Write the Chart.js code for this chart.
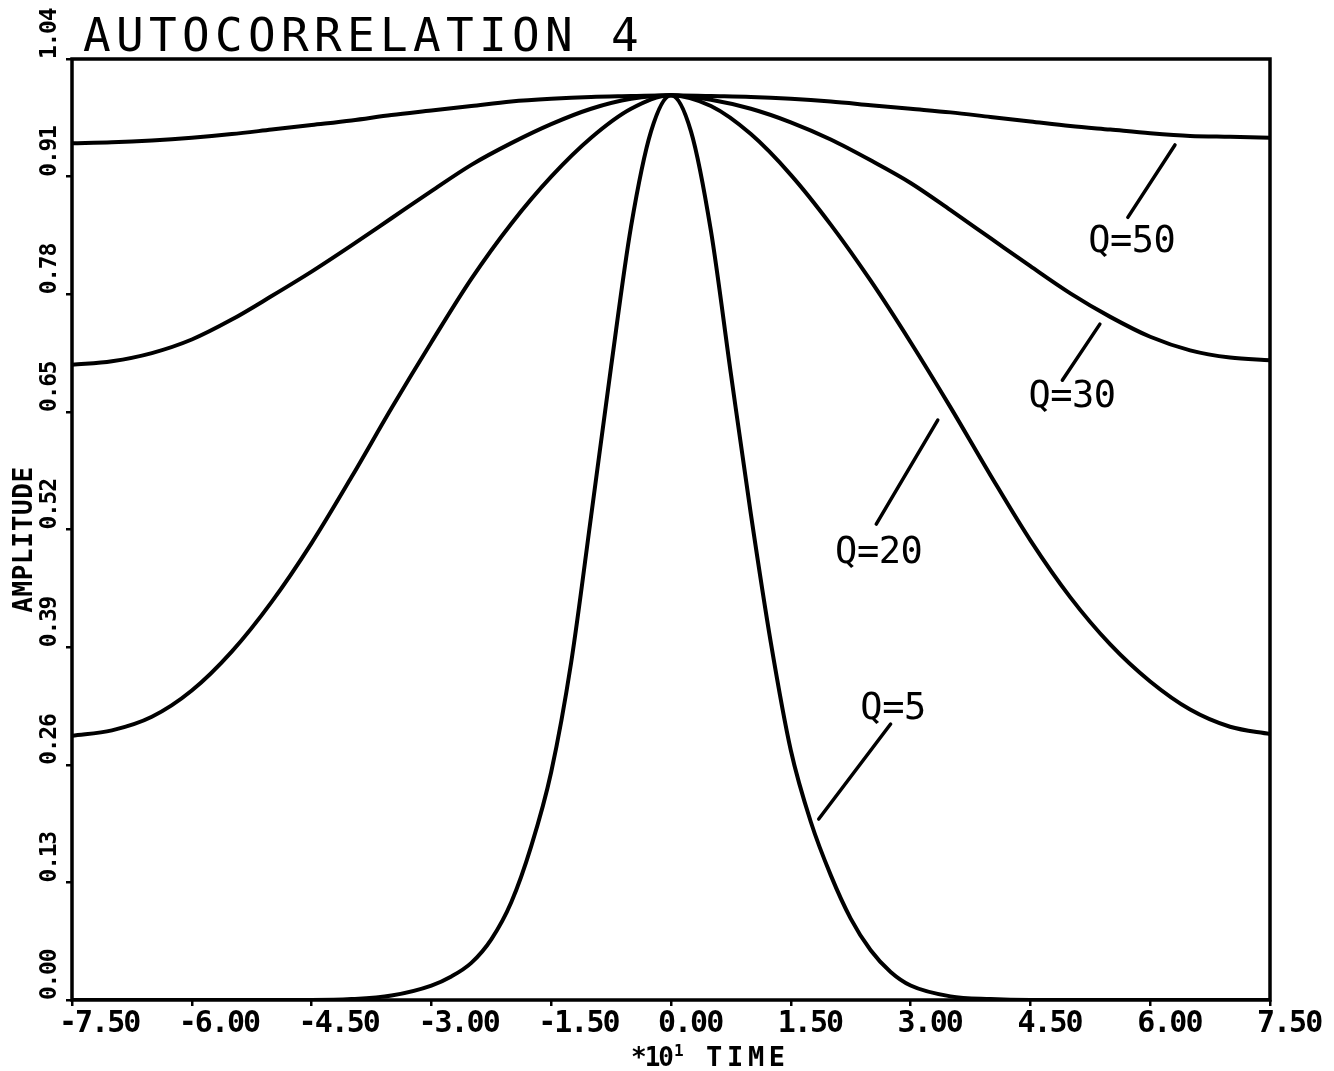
<!DOCTYPE html>
<html>
<head>
<meta charset="utf-8">
<title>Autocorrelation 4</title>
<script src="https://cdn.jsdelivr.net/npm/chart.js@4.4.1/dist/chart.umd.min.js"></script>
<style>
  html, body { margin: 0; padding: 0; background: #fff; }
  canvas { display: block; }
</style>
</head>
<body>
<canvas id="chart" width="1334" height="1071"></canvas>
<script>
// lag (x10 time units), shared by the three wide curves
const lagGrid = [-7.5, -7, -6.5, -6, -5.5, -5, -4.5, -4, -3.5, -3, -2.5, -2, -1.5, -1, -0.5,
                 0, 0.5, 1, 1.5, 2, 2.5, 3, 3.5, 4, 4.5, 5, 5.5, 6, 6.5, 7, 7.5];
const q50 = [0.947, 0.948, 0.950, 0.953, 0.957, 0.962, 0.967, 0.972, 0.978, 0.983, 0.988, 0.993, 0.996, 0.998, 0.999,
             1.000, 0.999, 0.998, 0.996, 0.993, 0.989, 0.985, 0.981, 0.976, 0.971, 0.966, 0.962, 0.958, 0.955, 0.954, 0.953];
const q30 = [0.702, 0.706, 0.715, 0.730, 0.752, 0.778, 0.805, 0.834, 0.864, 0.894, 0.923, 0.947, 0.968, 0.985, 0.996,
             1.000, 0.995, 0.985, 0.970, 0.951, 0.928, 0.903, 0.873, 0.842, 0.811, 0.781, 0.755, 0.733, 0.718, 0.710, 0.707];
const q20 = [0.292, 0.298, 0.313, 0.342, 0.385, 0.440, 0.505, 0.578, 0.654, 0.727, 0.797, 0.858, 0.910, 0.953, 0.985,
             1.000, 0.988, 0.957, 0.912, 0.857, 0.795, 0.727, 0.655, 0.580, 0.508, 0.445, 0.393, 0.352, 0.321, 0.302, 0.294];

// Q=5 is narrow, so it gets a finer lag grid
const lagFine = [-7.5, -6, -5, -4.5, -4, -3.5, -3, -2.75, -2.5, -2.25, -2, -1.75, -1.5, -1.25, -1, -0.75, -0.5, -0.25,
                 0, 0.25, 0.5, 0.75, 1, 1.25, 1.5, 1.75, 2, 2.25, 2.5, 2.75, 3, 3.5, 4, 4.5, 5, 6, 7.5];
const q5 = [0, 0, 0, 0, 0.001, 0.005, 0.016, 0.026, 0.041, 0.067, 0.108, 0.170, 0.252, 0.373, 0.535, 0.700, 0.855, 0.960,
            1.000, 0.960, 0.850, 0.692, 0.537, 0.395, 0.276, 0.197, 0.138, 0.090, 0.055, 0.031, 0.016, 0.004, 0.001, 0, 0, 0, 0];

const xTicks = [-7.5, -6, -4.5, -3, -1.5, 0, 1.5, 3, 4.5, 6, 7.5];
const yTicks = [0, 0.13, 0.26, 0.39, 0.52, 0.65, 0.78, 0.91, 1.04];

// curve names with their leader lines, in data units
const curveNames = ['Q=50', 'Q=30', 'Q=20', 'Q=5'];
const nameAt     = [[5.77, 0.842], [5.02, 0.670], [2.60, 0.498], [2.78, 0.325]];
const leaderFrom = [[5.72, 0.865], [4.90, 0.685], [2.57, 0.526], [1.85, 0.200]];
const leaderTo   = [[6.31, 0.945], [5.37, 0.747], [3.34, 0.641], [2.75, 0.305]];

const MONO = '"DejaVu Sans Mono", "Liberation Mono", monospace';

function series(xs, ys) {
  return { data: xs.map((x, i) => ({ x, y: ys[i] })) };
}

const plotterText = {
  id: 'plotterText',
  afterDraw(chart) {
    const { ctx, chartArea: a, scales: { x, y } } = chart;
    ctx.save();
    ctx.fillStyle = '#000';
    ctx.strokeStyle = '#000';

    // box around the plot
    ctx.lineWidth = 3.5;
    ctx.strokeRect(a.left, a.top, a.right - a.left, a.bottom - a.top);

    // leader lines
    ctx.lineCap = 'round';
    ctx.lineWidth = 3.5;
    leaderFrom.forEach((p, i) => {
      ctx.beginPath();
      ctx.moveTo(x.getPixelForValue(p[0]), y.getPixelForValue(p[1]));
      ctx.lineTo(x.getPixelForValue(leaderTo[i][0]), y.getPixelForValue(leaderTo[i][1]));
      ctx.stroke();
    });

    // curve names
    ctx.font = '37px ' + MONO;
    ctx.letterSpacing = '-0.5px';
    ctx.textAlign = 'center';
    ctx.textBaseline = 'alphabetic';
    curveNames.forEach((t, i) => {
      ctx.fillText(t, x.getPixelForValue(nameAt[i][0]), y.getPixelForValue(nameAt[i][1]) + 13.5);
    });

    // x tick labels
    ctx.font = 'bold 30px ' + MONO;
    ctx.letterSpacing = '-2px';
    ctx.textAlign = 'left';
    xTicks.forEach(v => ctx.fillText(v.toFixed(2), x.getPixelForValue(v) - 13, a.bottom + 32));

    // y tick labels, reading upward from each tick
    ctx.font = 'bold 23px ' + MONO;
    ctx.letterSpacing = '-1.3px';
    yTicks.forEach(v => {
      ctx.save();
      ctx.translate(a.left - 16, y.getPixelForValue(v));
      ctx.rotate(-Math.PI / 2);
      ctx.fillText(v.toFixed(2), 0, 0);
      ctx.restore();
    });

    // y axis title
    ctx.font = 'bold 26px ' + MONO;
    ctx.letterSpacing = '0.6px';
    ctx.save();
    ctx.translate(32, (a.top + a.bottom) / 2 + 10);
    ctx.rotate(-Math.PI / 2);
    ctx.textAlign = 'center';
    ctx.fillText('AMPLITUDE', 0, 0);
    ctx.restore();

    // x axis title: *10^1 TIME
    const x0 = x.getPixelForValue(0);
    ctx.textAlign = 'left';
    ctx.font = 'bold 26px ' + MONO;
    ctx.letterSpacing = '-2px';
    ctx.fillText('*10', x0 - 40, 1066);
    ctx.font = 'bold 16px ' + MONO;
    ctx.letterSpacing = '0px';
    ctx.fillText('1', x0 + 3, 1056);
    ctx.font = 'bold 27px ' + MONO;
    ctx.letterSpacing = '4.7px';
    ctx.fillText('TIME', x0 + 35, 1066);

    // title
    ctx.font = '46px ' + MONO;
    ctx.letterSpacing = '5.3px';
    ctx.fillText('AUTOCORRELATION 4', 83, 51);

    ctx.restore();
  }
};

new Chart(document.getElementById('chart'), {
  type: 'line',
  data: {
    datasets: [series(lagGrid, q50), series(lagGrid, q30), series(lagGrid, q20), series(lagFine, q5)]
  },
  options: {
    responsive: false,
    animation: false,
    devicePixelRatio: 1,
    layout: { padding: { top: 59, right: 64, left: 0, bottom: 0 } },
    plugins: { legend: { display: false }, tooltip: { enabled: false } },
    elements: {
      point: { radius: 0 },
      line: { borderColor: '#000', borderWidth: 4, cubicInterpolationMode: 'monotone', fill: false }
    },
    scales: {
      x: {
        type: 'linear', min: -7.5, max: 7.5,
        afterBuildTicks: s => { s.ticks = xTicks.map(value => ({ value })); },
        afterFit: s => { s.height = 71; },
        ticks: { display: false },
        grid: { drawOnChartArea: false, color: '#000', lineWidth: 2.5, tickLength: 6 },
        border: { display: false }
      },
      y: {
        type: 'linear', min: 0, max: 1.04,
        afterBuildTicks: s => { s.ticks = yTicks.map(value => ({ value })); },
        afterFit: s => { s.width = 72; },
        ticks: { display: false },
        grid: { drawOnChartArea: false, color: '#000', lineWidth: 2.5, tickLength: 6 },
        border: { display: false }
      }
    }
  },
  plugins: [plotterText]
});
</script>
</body>
</html>
